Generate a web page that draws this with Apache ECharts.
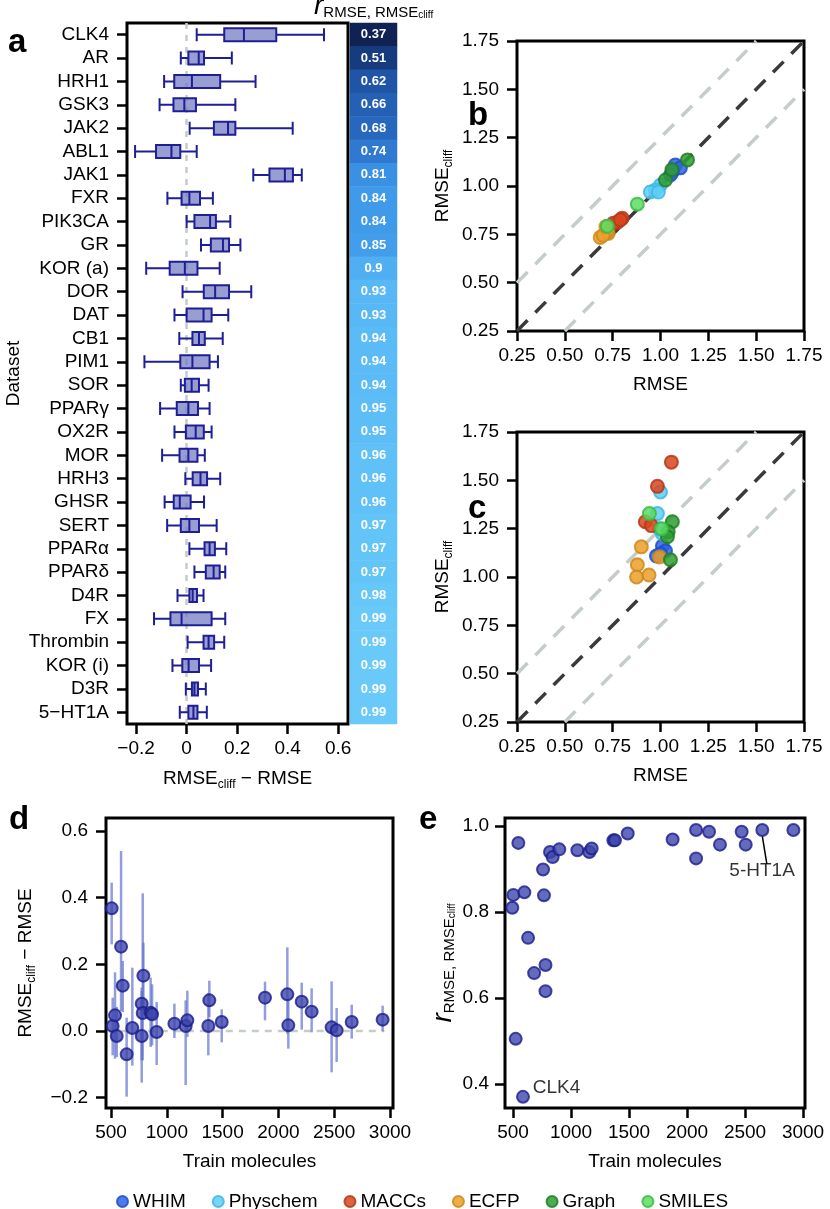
<!DOCTYPE html>
<html><head><meta charset="utf-8">
<script src="https://cdn.jsdelivr.net/npm/echarts@6/dist/echarts.min.js"></script>
<style>html,body{margin:0;padding:0;background:#fff}#c{width:830px;height:1209px}</style>
</head><body><div id="c"></div>
<script>
// ---------- data ----------
const datasets = ['CLK4','AR','HRH1','GSK3','JAK2','ABL1','JAK1','FXR','PIK3CA','GR','KOR (a)','DOR','DAT','CB1','PIM1','SOR','PPARγ','OX2R','MOR','HRH3','GHSR','SERT','PPARα','PPARδ','D4R','FX','Thrombin','KOR (i)','D3R','5−HT1A'];
// [min, Q1, median, Q3, max] of RMSEcliff − RMSE
const boxStats = [
  [0.04,0.149,0.227,0.355,0.544],[-0.023,0.007,0.048,0.069,0.179],[-0.089,-0.049,0.021,0.133,0.273],
  [-0.107,-0.052,-0.009,0.037,0.193],[0.012,0.108,0.164,0.193,0.42],[-0.204,-0.121,-0.06,-0.025,0.04],
  [0.264,0.328,0.389,0.421,0.456],[-0.076,-0.02,0.011,0.053,0.104],[0.0,0.031,0.093,0.116,0.173],
  [0.057,0.096,0.144,0.168,0.213],[-0.16,-0.067,-0.007,0.043,0.131],[-0.016,0.068,0.113,0.168,0.256],
  [-0.048,0.0,0.067,0.099,0.165],[-0.029,0.023,0.049,0.072,0.143],[-0.167,-0.025,0.023,0.091,0.124],
  [-0.023,-0.007,0.02,0.049,0.087],[-0.105,-0.039,0.007,0.045,0.091],[-0.048,-0.003,0.036,0.068,0.099],
  [-0.097,-0.028,0.007,0.043,0.072],[-0.005,0.024,0.055,0.081,0.133],[-0.087,-0.051,-0.027,0.016,0.069],
  [-0.077,-0.023,0.011,0.049,0.119],[0.011,0.071,0.091,0.112,0.157],[0.031,0.076,0.107,0.131,0.153],
  [-0.036,0.011,0.024,0.041,0.067],[-0.129,-0.064,-0.02,0.099,0.153],[0.004,0.067,0.087,0.109,0.149],
  [-0.056,-0.017,0.008,0.049,0.097],[-0.003,0.021,0.031,0.045,0.076],[-0.027,0.007,0.027,0.043,0.08]
];
const rValues = [0.37,0.51,0.62,0.66,0.68,0.74,0.81,0.84,0.84,0.85,0.9,0.93,0.93,0.94,0.94,0.94,0.95,0.95,0.96,0.96,0.96,0.97,0.97,0.97,0.98,0.99,0.99,0.99,0.99,0.99];

const methods = ['WHIM','Physchem','MACCs','ECFP','Graph','SMILES'];
// panel b: [RMSE, RMSEcliff]
const bWHIM = [[1.078,1.109],[1.104,1.094],[1.062,1.073],[1.052,1.057]];
const bPhyschem = [[1.0,1.005],[0.973,0.979],[0.947,0.969],[0.989,0.969]];
const bMACCs = [[0.8,0.833],[0.774,0.812],[0.753,0.807],[0.79,0.825]];
const bECFP = [[0.685,0.734],[0.727,0.755],[0.70,0.745],[0.715,0.79]];
const bGraph = [[1.141,1.135],[1.026,1.031],[1.06,1.085]];
const bSMILES = [[0.879,0.906],[0.722,0.792]];
// panel c
const cWHIM = [[1.01,1.16],[1.026,1.135],[0.979,1.109],[1.0,1.12]];
const cPhyschem = [[1.0,1.44],[0.984,1.328],[1.01,1.224],[0.995,1.25]];
const cMACCs = [[1.057,1.594],[0.984,1.469],[0.921,1.286],[0.952,1.266]];
const cECFP = [[0.9,1.156],[0.995,1.104],[0.879,1.063],[0.875,1.0],[0.94,1.01]];
const cGraph = [[1.062,1.286],[1.04,1.234],[1.036,1.208],[1.052,1.089]];
const cSMILES = [[0.942,1.328],[1.005,1.25]];
const diagMain = [[0.25,0.25],[1.75,1.75]];
const diagUpper = [[0.25,0.5],[1.5,1.75]];
const diagLower = [[0.5,0.25],[1.75,1.5]];

// panel d
const dTrain = [506,515,536,551,590,605,640,691,775,775,784,790,855,868,909,1068,1169,1184,1372,1381,1492,1880,2080,2089,2209,2298,2477,2522,2657,2934];
const dMean  = [0.368,0.015,0.047,-0.015,0.253,0.136,-0.07,0.009,-0.015,0.082,0.054,0.166,0.055,0.05,-0.003,0.022,0.015,0.032,0.015,0.092,0.027,0.1,0.11,0.017,0.088,0.058,0.011,0.002,0.027,0.034];
const dLow   = [0.26,-0.073,-0.083,-0.078,0.06,0.057,-0.197,-0.104,-0.155,-0.088,-0.088,0.052,-0.048,-0.043,-0.102,-0.021,-0.162,-0.018,-0.073,0.042,-0.034,0.032,-0.008,-0.053,0.004,-0.004,-0.124,-0.093,-0.023,-0.001];
const dHigh  = [0.445,0.10,0.176,0.072,0.54,0.21,0.04,0.19,0.12,0.13,0.413,0.265,0.16,0.14,0.087,0.082,0.092,0.121,0.114,0.151,0.065,0.148,0.251,0.092,0.145,0.128,0.149,0.069,0.079,0.076];
const zeroLineD = [[480,0],[2950,0]];

// panel e
const eTrain = [494,503,523,546,586,598,630,682,759,767,780,780,819,842,899,1055,1158,1178,1365,1379,1489,1876,2078,2078,2190,2284,2471,2506,2649,2917];
const eR     = [0.81,0.84,0.505,0.961,0.37,0.846,0.74,0.658,0.899,0.839,0.677,0.616,0.94,0.928,0.946,0.944,0.94,0.948,0.967,0.967,0.983,0.969,0.991,0.925,0.987,0.957,0.987,0.957,0.991,0.991];
const eAnnotText = ['5-HT1A','CLK4'];
const eAnnotPos = [[2647,0.897],[875,0.391]];
const eAnnotLine = [[2649,0.977],[2688,0.912]];

// tick labels
const aTicks = [-0.2,0,0.2,0.4,0.6];
const bcTicks = [0.25,0.5,0.75,1.0,1.25,1.5,1.75];
const dXTicks = [500,1000,1500,2000,2500,3000];
const dYTicks = [-0.2,0,0.2,0.4,0.6];
const eYTicks = [0.4,0.6,0.8,1.0];

// ---------- styling ----------
const FONT = '"Liberation Sans", Arial, Helvetica, sans-serif';
const minus = s => s.replace('-', '\u2212');
const colors = {
  WHIM:['#2f63e6','#1f4fcf'], Physchem:['#5fcff6','#3fb6e6'], MACCs:['#d9471e','#b53818'],
  ECFP:['#eaa02a','#cf881a'], Graph:['#2e9e30','#217f25'], SMILES:['#5cdc64','#38bd45']
};
const richSub = {
  a:{fontSize:19,fontFamily:FONT,color:'#000',lineHeight:24},
  s:{fontSize:12,fontFamily:FONT,color:'#000',lineHeight:12,verticalAlign:'bottom'}
};
const richR = {
  r:{fontSize:28,fontStyle:'italic',fontFamily:FONT,color:'#000',lineHeight:30,verticalAlign:'bottom'},
  s:{fontSize:15,fontFamily:FONT,color:'#000',lineHeight:22,verticalAlign:'bottom'},
  ss:{fontSize:10,fontFamily:FONT,color:'#000',lineHeight:12,verticalAlign:'bottom'}
};

function vAxis(gridIndex, min, max, ticks, fmt, margin, extra) {
  return Object.assign({
    type:'value', gridIndex, min, max, scale:true,
    axisLine:{show:false, onZero:false}, splitLine:{show:false},
    axisTick:{show:true, customValues:ticks, length:10, lineStyle:{color:'#000', width:2.5}},
    axisLabel:{show:true, customValues:ticks, formatter:fmt, color:'#000', fontSize:19, fontFamily:FONT, margin:margin},
    nameLocation:'middle', nameTextStyle:{color:'#000', fontSize:19, fontFamily:FONT}
  }, extra || {});
}
const gridBox = {show:true, borderColor:'#000', borderWidth:3, backgroundColor:'rgba(0,0,0,0)', containLabel:false};

const option = {
  animation:false,
  backgroundColor:'#fff',
  grid:[
    Object.assign({left:127, top:23, width:221, height:701}, gridBox),
    {left:350, top:23, width:47, height:701, show:false},
    Object.assign({left:517, top:41, width:287, height:290}, gridBox),
    Object.assign({left:517, top:432, width:287, height:290}, gridBox),
    Object.assign({left:106, top:818, width:287, height:290}, gridBox),
    Object.assign({left:505, top:818, width:300, height:290}, gridBox)
  ],
  xAxis:[
    vAxis(0, -0.236, 0.639, aTicks, v => v === 0 ? '0' : minus(String(+v.toFixed(1))), 15,
      {name:'{a|RMSE}{s|cliff}{a| \u2212 RMSE}', nameGap:43, nameTextStyle:{rich:richSub}}),
    {type:'category', gridIndex:1, data:['r'], show:false},
    vAxis(2, 0.25, 1.75, bcTicks, v => v.toFixed(2), 15, {name:'RMSE', nameGap:44}),
    vAxis(3, 0.25, 1.75, bcTicks, v => v.toFixed(2), 15, {name:'RMSE', nameGap:44}),
    vAxis(4, 455, 3027, dXTicks, v => String(v), 15, {name:'Train molecules', nameGap:44}),
    vAxis(5, 431, 3017, dXTicks, v => String(v), 15, {name:'Train molecules', nameGap:44})
  ],
  yAxis:[
    {type:'category', gridIndex:0, data:datasets, inverse:true,
      axisLine:{show:false, onZero:false}, splitLine:{show:false},
      axisTick:{show:true, alignWithLabel:true, length:10, lineStyle:{color:'#000', width:2.5}},
      axisLabel:{color:'#000', fontSize:19, fontFamily:FONT, margin:18, interval:0},
      name:'Dataset', nameLocation:'middle', nameGap:104, nameTextStyle:{color:'#000', fontSize:19, fontFamily:FONT}},
    {type:'category', gridIndex:1, data:datasets, inverse:true, show:false},
    vAxis(2, 0.25, 1.75, bcTicks, v => v.toFixed(2), 18, {name:'{a|RMSE}{s|cliff}', nameGap:62, nameTextStyle:{rich:richSub}}),
    vAxis(3, 0.25, 1.75, bcTicks, v => v.toFixed(2), 18, {name:'{a|RMSE}{s|cliff}', nameGap:62, nameTextStyle:{rich:richSub}}),
    vAxis(4, -0.231, 0.639, dYTicks, v => minus(v.toFixed(1)), 18, {name:'{a|RMSE}{s|cliff}{a| \u2212 RMSE}', nameGap:68, nameTextStyle:{rich:richSub}}),
    vAxis(5, 0.344, 1.019, eYTicks, v => v.toFixed(1), 16, {name:'{r|r}{s|RMSE, RMSE}{ss|cliff}', nameGap:48, nameTextStyle:{rich:richR}})
  ],
  visualMap:{show:false, type:'continuous', min:0.37, max:0.99, dimension:2, seriesIndex:1,
    inRange:{color:['#0f2253','#13306a','#183f83','#1d4f9f','#2767bd','#3180d5','#3e98e8','#52b3f4','#69cafa']}},
  legend:{
    data:methods, left:116, top:1192, itemWidth:11, itemHeight:11, itemGap:26, padding:0,
    textStyle:{color:'#000', fontSize:19, fontFamily:FONT}
  },
  graphic:[
    {type:'text', left:8, top:26, style:{text:'a', font:'bold 33px ' + FONT, fill:'#000'}},
    {type:'text', left:468, top:99, style:{text:'b', font:'bold 33px ' + FONT, fill:'#000'}},
    {type:'text', left:468, top:492, style:{text:'c', font:'bold 33px ' + FONT, fill:'#000'}},
    {type:'text', left:9, top:803, style:{text:'d', font:'bold 33px ' + FONT, fill:'#000'}},
    {type:'text', left:419, top:803, style:{text:'e', font:'bold 33px ' + FONT, fill:'#000'}},
    {type:'text', left:314, top:-8, style:{text:'{r|r}{s|RMSE, RMSE}{ss|cliff}', rich:richR}}
  ],
  series:[]
};

// panel a
option.series.push({
  type:'boxplot', xAxisIndex:0, yAxisIndex:0, data:boxStats, boxWidth:[13,13],
  itemStyle:{color:'rgba(112,120,192,0.72)', borderColor:'#1e1e96', borderWidth:2},
  z:3,
  markLine:{silent:true, symbol:['none','none'], label:{show:false}, z:2,
    lineStyle:{color:'#c3cbc7', type:[6,6], width:2.5}, data:[{xAxis:0}]}
});
option.series.push({
  type:'heatmap', xAxisIndex:1, yAxisIndex:1,
  data:rValues.map((v,i) => [0,i,v]),
  label:{show:true, formatter:p => String(p.value[2]), color:'#fff', fontSize:13, fontWeight:'bold', fontFamily:FONT},
  itemStyle:{borderWidth:0}
});

function diag(ax, data, color) {
  return {type:'line', xAxisIndex:ax, yAxisIndex:ax, data:data, symbol:'none', z:1, silent:true,
    lineStyle:{color:color, width:3.5, type:[15,11]}};
}
function methodScatter(ax, name, data) {
  return {type:'scatter', name:name, xAxisIndex:ax, yAxisIndex:ax, data:data, symbolSize:13, z:3,
    itemStyle:{color:colors[name][0], borderColor:colors[name][1], borderWidth:2, opacity:0.85}};
}
// panel b
option.series.push(diag(2, diagUpper, '#c5cdc9'), diag(2, diagLower, '#c5cdc9'), diag(2, diagMain, '#3a3a3a'));
[bWHIM,bPhyschem,bMACCs,bECFP,bGraph,bSMILES].forEach((d,i) => option.series.push(methodScatter(2, methods[i], d)));
// panel c
option.series.push(diag(3, diagUpper, '#c5cdc9'), diag(3, diagLower, '#c5cdc9'), diag(3, diagMain, '#3a3a3a'));
[cWHIM,cPhyschem,cMACCs,cECFP,cGraph,cSMILES].forEach((d,i) => option.series.push(methodScatter(3, methods[i], d)));

// panel d
option.series.push({type:'line', xAxisIndex:4, yAxisIndex:4, data:zeroLineD, symbol:'none', z:1, silent:true,
  lineStyle:{color:'#c5cdc9', width:2.5, type:[7,6]}});
option.series.push({
  type:'custom', xAxisIndex:4, yAxisIndex:4, z:2,
  data:dTrain.map((t,i) => [t, dLow[i], dHigh[i]]),
  encode:{x:0, y:[1,2]},
  renderItem:(params, api) => {
    const p1 = api.coord([api.value(0), api.value(1)]);
    const p2 = api.coord([api.value(0), api.value(2)]);
    return {type:'line', shape:{x1:p1[0], y1:p1[1], x2:p2[0], y2:p2[1]},
      style:{stroke:'rgba(100,116,206,0.7)', lineWidth:2.5}};
  }
});
const navy = {color:'#3d45ac', borderColor:'#1a1e8a', borderWidth:2};
option.series.push({type:'scatter', xAxisIndex:4, yAxisIndex:4, z:3, symbolSize:12,
  data:dTrain.map((t,i) => [t, dMean[i]]), itemStyle:navy});

// panel e
option.series.push({type:'scatter', xAxisIndex:5, yAxisIndex:5, z:3, symbolSize:12,
  data:eTrain.map((t,i) => [t, eR[i]]), itemStyle:navy});
option.series.push({type:'line', xAxisIndex:5, yAxisIndex:5, data:eAnnotLine, symbol:'none', z:2, silent:true,
  lineStyle:{color:'#000', width:1.5}});
option.series.push({type:'scatter', xAxisIndex:5, yAxisIndex:5, symbolSize:0, z:4, silent:true,
  data:eAnnotPos.map((p,i) => ({value:p, name:eAnnotText[i]})),
  label:{show:true, position:'inside', formatter:'{b}', color:'#000', fontSize:19, fontFamily:FONT}});

const chart = echarts.init(document.getElementById('c'), null, {renderer:'canvas', width:830, height:1209});
chart.setOption(option);
</script>
</body></html>
